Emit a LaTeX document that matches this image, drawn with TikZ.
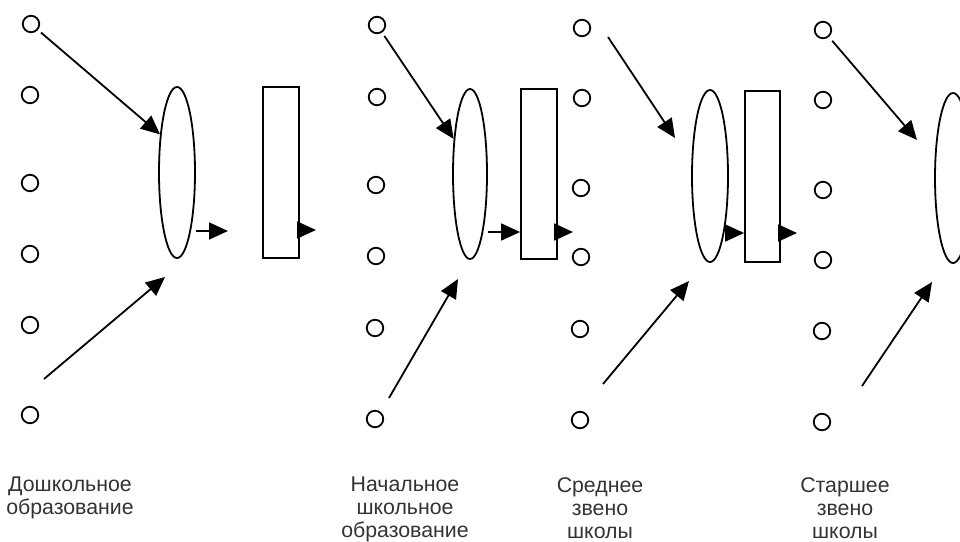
\documentclass[tikz,border=0pt]{standalone}
\usepackage{fontspec}
\setmainfont{Liberation Sans}
\usepackage{tikz}
\usetikzlibrary{arrows.meta,shapes.geometric}

\begin{document}
\begin{tikzpicture}[x=1pt, y=-1pt,
  dot/.style={draw, line width=1.8pt, shape=circle, minimum size=16.5pt, inner sep=0pt},
  stage/.style={draw, line width=1.8pt, shape=ellipse, minimum width=36pt, minimum height=171pt, inner sep=0pt},
  block/.style={draw, line width=1.8pt, shape=rectangle, minimum width=36pt, minimum height=171pt, inner sep=0pt},
  arr/.style={line width=1.8pt, -{Triangle[length=19pt, width=17pt]}},
  caption/.style={anchor=north, align=center, inner sep=0pt, text=black!80, font=\fontsize{21.3}{23}\selectfont}]
\useasboundingbox (0, 0) rectangle (960, 541);

% preschool
\path (31, 24) node[dot] (pre_c1) {};
\path (30, 95) node[dot] (pre_c2) {};
\path (30, 183) node[dot] (pre_c3) {};
\path (30, 254) node[dot] (pre_c4) {};
\path (30, 325) node[dot] (pre_c5) {};
\path (30, 415) node[dot] (pre_c6) {};
\path (177, 172.5) node[stage] (pre_ellipse) {};
\path (281, 172.5) node[block] (pre_box) {};
\path (44, 379) coordinate (pre_in);
\path (165, 277) coordinate (pre_tip);
\path (228, 231) coordinate (pre_out);
\path (316, 230) coordinate (pre_next);
\path (70, 477) node[caption] (pre_label) {Дошкольное\\образование};

% primary school
\path (377, 25) node[dot] (prim_c1) {};
\path (377, 97) node[dot] (prim_c2) {};
\path (376, 185) node[dot] (prim_c3) {};
\path (376, 256) node[dot] (prim_c4) {};
\path (375, 328) node[dot] (prim_c5) {};
\path (375, 419) node[dot] (prim_c6) {};
\path (470, 174) node[stage, minimum width=34pt, minimum height=170pt] (prim_ellipse) {};
\path (539, 174) node[block, minimum height=170pt] (prim_box) {};
\path (389, 398) coordinate (prim_in);
\path (458, 279) coordinate (prim_tip);
\path (573, 232) coordinate (prim_next);
\path (405, 477) node[caption] (prim_label) {Начальное\\школьное\\образование};

% middle school
\path (582, 28) node[dot] (mid_c1) {};
\path (582, 98) node[dot] (mid_c2) {};
\path (581, 188) node[dot] (mid_c3) {};
\path (581, 257) node[dot] (mid_c4) {};
\path (580, 329) node[dot] (mid_c5) {};
\path (580, 420) node[dot] (mid_c6) {};
\path (710, 176) node[stage, minimum height=172pt] (mid_ellipse) {};
\path (762.5, 176.5) node[block, minimum width=35pt] (mid_box) {};
\path (608, 37) coordinate (mid_top);
\path (675, 138) coordinate (mid_top_tip);
\path (603, 384) coordinate (mid_in);
\path (689, 281) coordinate (mid_tip);
\path (797, 233) coordinate (mid_next);
\path (600, 477) node[caption] (mid_label) {Среднее\\звено\\школы};

% senior school
\path (823, 30) node[dot] (sen_c1) {};
\path (823, 100) node[dot] (sen_c2) {};
\path (823, 190) node[dot] (sen_c3) {};
\path (823, 260) node[dot] (sen_c4) {};
\path (822, 331) node[dot] (sen_c5) {};
\path (822, 422) node[dot] (sen_c6) {};
\path (953, 178) node[stage, minimum height=170pt] (sen_ellipse) {};
\path (917, 140) coordinate (sen_top_tip);
\path (862, 386) coordinate (sen_in);
\path (932, 282) coordinate (sen_tip);
\path (845, 477) node[caption] (sen_label) {Старшее\\звено\\школы};

\draw[arr, shorten <=4pt] (pre_c1) -- (pre_ellipse.114);
\draw[arr] (pre_in) -- (pre_tip);
\draw[arr] (pre_ellipse.east |- pre_out) -- (pre_out);
\draw[arr] (pre_box.east |- pre_next) -- (pre_next);

\draw[arr, shorten <=4pt] (prim_c1) -- (prim_ellipse.115);
\draw[arr] (prim_in) -- (prim_tip);
\draw[arr] (prim_ellipse.east |- prim_next) -- (prim_box.west |- prim_next);
\draw[arr] (prim_box.east |- prim_next) -- (prim_next);

\draw[arr] (mid_top) -- (mid_top_tip);
\draw[arr] (mid_in) -- (mid_tip);
\draw[arr] (mid_ellipse.east |- mid_next) -- (mid_box.west |- mid_next);
\draw[arr] (mid_box.east |- mid_next) -- (mid_next);

\draw[arr, shorten <=5pt] (sen_c1) -- (sen_top_tip);
\draw[arr] (sen_in) -- (sen_tip);
\end{tikzpicture}
\end{document}
